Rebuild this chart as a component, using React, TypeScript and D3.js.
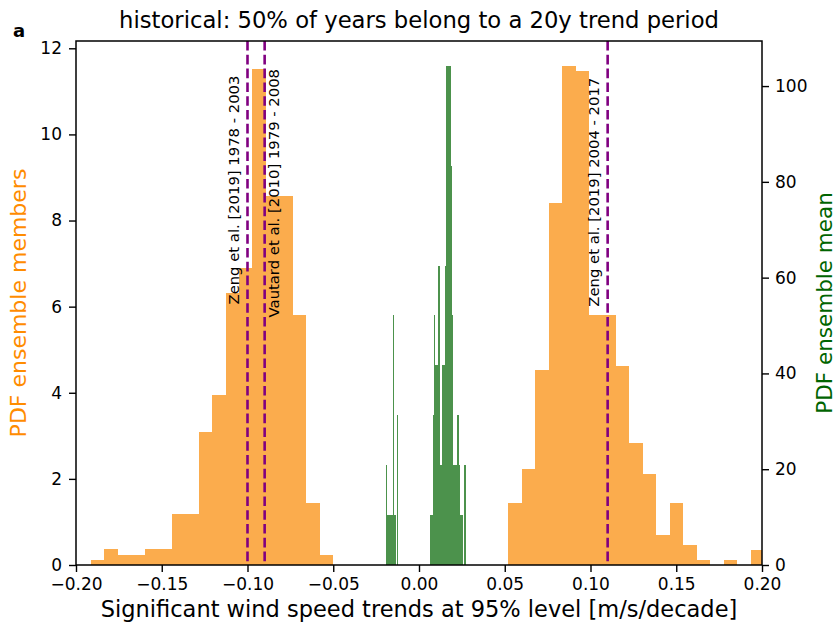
import React, { useEffect, useRef } from "react";
import * as d3 from "d3";

// histogram of all ensemble members (density), equal-width bins
const orangeBinStart = -0.1913;
const orangeBinWidth = 0.00785;
const orangeDensity = [
  0.11, 0.37, 0.23, 0.23, 0.37, 0.37, 1.19, 1.19, 3.09, 3.95, 6.31, 6.9, 11.52, 8.56, 8.56, 5.81, 1.43, 0.23,
  0, 0, 0, 0, 0, 0, 0, 0, 0, 0, 0, 0, 0,
  1.43, 2.24, 4.52, 8.41, 11.59, 11.48, 5.8, 5.8, 4.62, 2.83, 2.12, 0.69, 1.43, 0.46, 0.11, 0, 0.11, 0, 0.35,
];

// histogram of the ensemble mean (density)
const greenBinStart = -0.02;
const greenBinWidth = 0.0008;
const greenDensity = [
  0, 20.8, 10.4, 10.4, 10.4, 10.4, 52.1, 10.4, 0, 31.3,
  0, 0, 0, 0, 0, 0, 0, 0, 0, 0, 0, 0, 0, 0, 0, 0, 0, 0, 0, 0, 0, 0, 0,
  10.4, 10.4, 31.3, 52.1, 41.7, 41.7, 62.5, 20.8, 20.8, 41.7, 41.7, 62.5, 104.2, 104.2, 104.2,
  83.3, 52.1, 20.8, 20.8, 20.8, 31.3, 20.8, 10.4, 10.4, 0, 20.8,
];

const xTicks = [-0.2, -0.15, -0.1, -0.05, 0, 0.05, 0.1, 0.15, 0.2];
const leftTicks = [0, 2, 4, 6, 8, 10, 12];
const rightTicks = [0, 20, 40, 60, 80, 100];

const refLines = [
  { x: -0.1, label: "Zeng et al. [2019] 1978 - 2003", side: "left", labelY: 6.05 },
  { x: -0.09, label: "Vautard et al. [2010] 1979 - 2008", side: "right", labelY: 5.75 },
  { x: 0.11, label: "Zeng et al. [2019] 2004 - 2017", side: "left", labelY: 6.0 },
];

const title = "historical: 50% of years belong to a 20y trend period";
const xLabel = "Significant wind speed trends at 95% level [m/s/decade]";
const leftLabel = "PDF ensemble members";
const rightLabel = "PDF ensemble mean";

const W = 838;
const H = 628;
const FONT = "'DejaVu Sans', sans-serif";

const App = () => {
  const svgRef = useRef(null);

  useEffect(() => {
    const left = 76, right = 762, top = 41, bottom = 565;

    const svg = d3.select(svgRef.current);
    svg.selectAll("*").remove();

    const x = d3.scaleLinear().domain([-0.2, 0.2]).range([left, right]);
    const yL = d3.scaleLinear().domain([0, d3.max(orangeDensity) * 1.05]).range([bottom, top]);
    const yR = d3.scaleLinear().domain([0, d3.max(greenDensity) * 1.05]).range([bottom, top]);

    svg.append("defs").append("clipPath").attr("id", "plot-clip")
      .append("rect").attr("x", left).attr("y", top).attr("width", right - left).attr("height", bottom - top);

    const plot = svg.append("g").attr("clip-path", "url(#plot-clip)");

    // orange: members
    plot.append("g").attr("shape-rendering", "crispEdges").selectAll("rect")
      .data(orangeDensity.map((v, i) => ({ x0: orangeBinStart + i * orangeBinWidth, v })).filter((d) => d.v > 0))
      .join("rect")
      .attr("x", (d) => x(d.x0))
      .attr("width", (d) => x(d.x0 + orangeBinWidth) - x(d.x0))
      .attr("y", (d) => yL(d.v))
      .attr("height", (d) => yL(0) - yL(d.v))
      .attr("fill", "#fbac4d");

    // green: ensemble mean
    plot.append("g").attr("shape-rendering", "crispEdges").selectAll("rect")
      .data(greenDensity.map((v, i) => ({ x0: greenBinStart + i * greenBinWidth, v })).filter((d) => d.v > 0))
      .join("rect")
      .attr("x", (d) => x(d.x0))
      .attr("width", (d) => x(d.x0 + greenBinWidth) - x(d.x0))
      .attr("y", (d) => yR(d.v))
      .attr("height", (d) => yR(0) - yR(d.v))
      .attr("fill", "#4c924c");

    // reference lines
    plot.append("g").selectAll("line")
      .data(refLines)
      .join("line")
      .attr("x1", (d) => x(d.x)).attr("x2", (d) => x(d.x))
      .attr("y1", top).attr("y2", bottom)
      .attr("stroke", "#800080")
      .attr("stroke-width", 2.6)
      .attr("stroke-dasharray", "9.6,4.2");

    svg.append("g").selectAll("text")
      .data(refLines)
      .join("text")
      .attr("transform", (d) => {
        const bx = d.side === "left" ? x(d.x) - 9 : x(d.x) + 14;
        return `translate(${bx},${yL(d.labelY)}) rotate(-90)`;
      })
      .attr("font-family", FONT)
      .attr("font-size", 14.8)
      .attr("fill", "#000")
      .text((d) => d.label);

    // frame
    svg.append("rect")
      .attr("x", left).attr("y", top)
      .attr("width", right - left).attr("height", bottom - top)
      .attr("fill", "none").attr("stroke", "#000").attr("stroke-width", 1.5);

    const styleAxis = (g) => {
      g.select(".domain").remove();
      g.selectAll("line").attr("stroke", "#000").attr("stroke-width", 1.4);
      g.selectAll("text").attr("font-family", FONT).attr("font-size", 17).attr("fill", "#000");
    };

    svg.append("g")
      .attr("transform", `translate(0,${bottom})`)
      .call(d3.axisBottom(x).tickValues(xTicks).tickFormat(d3.format(".2f")).tickSize(7).tickPadding(6))
      .call(styleAxis);

    svg.append("g")
      .attr("transform", `translate(${left},0)`)
      .call(d3.axisLeft(yL).tickValues(leftTicks).tickFormat(d3.format("d")).tickSize(7).tickPadding(7))
      .call(styleAxis);

    svg.append("g")
      .attr("transform", `translate(${right},0)`)
      .call(d3.axisRight(yR).tickValues(rightTicks).tickFormat(d3.format("d")).tickSize(7).tickPadding(6))
      .call(styleAxis);

    // titles and labels
    svg.append("text")
      .attr("x", (left + right) / 2).attr("y", 28)
      .attr("text-anchor", "middle")
      .attr("font-family", FONT).attr("font-size", 22.7)
      .text(title);

    svg.append("text")
      .attr("x", 13).attr("y", 37)
      .attr("font-family", FONT).attr("font-size", 18).attr("font-weight", "bold")
      .text("a");

    svg.append("text")
      .attr("x", (left + right) / 2).attr("y", 617)
      .attr("text-anchor", "middle")
      .attr("font-family", FONT).attr("font-size", 22.5)
      .text(xLabel);

    svg.append("text")
      .attr("transform", `translate(26,${(top + bottom) / 2}) rotate(-90)`)
      .attr("text-anchor", "middle")
      .attr("font-family", FONT).attr("font-size", 22)
      .attr("fill", "#ff8c00")
      .text(leftLabel);

    svg.append("text")
      .attr("transform", `translate(832,${(top + bottom) / 2}) rotate(-90)`)
      .attr("text-anchor", "middle")
      .attr("font-family", FONT).attr("font-size", 21.5)
      .attr("fill", "#006400")
      .text(rightLabel);
  }, []);

  return (
    <svg
      ref={svgRef}
      width={W}
      height={H}
      style={{ position: "absolute", left: 0, top: 0, background: "#fff" }}
    />
  );
};

export default App;
